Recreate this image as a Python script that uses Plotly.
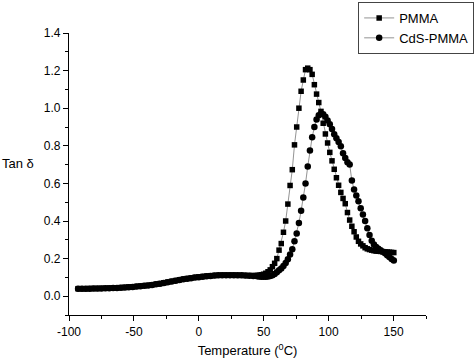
import plotly.graph_objects as go

temps = [-93, -90, -87, -84, -81, -78, -75, -72, -69, -66, -63, -60, -57, -54, -51,
         -48, -45, -42, -39, -36, -33, -30, -27, -24, -21, -18, -15, -12, -9, -6, -3,
         0, 3, 6, 9, 12, 15, 18, 21, 24, 27, 30, 33, 36, 39, 42, 45,
         46.5, 48.2, 49.9, 51.6, 53.3, 55.0, 56.7, 58.4, 60.1, 61.8, 63.5, 65.2,
         66.9, 68.6, 70.3, 72.0, 73.7, 75.4, 77.1, 78.8, 80.5, 82.2, 83.9, 85.6,
         87.3, 89.0, 90.7, 92.4, 94.1, 95.8, 97.5, 99.2, 100.9, 102.6, 104.3, 106.0,
         107.7, 109.4, 111.1, 112.8, 114.5, 116.2, 117.9, 119.6, 121.3, 123.0, 124.7,
         126.4, 128.1, 129.8, 131.5, 133.2, 134.9, 136.6, 138.3, 140.0, 141.7, 143.4,
         145.1, 146.8, 148.5, 150.2]

pmma = [0.040, 0.040, 0.040, 0.041, 0.041, 0.041, 0.042, 0.042, 0.043, 0.044, 0.045,
        0.046, 0.047, 0.049, 0.050, 0.052, 0.054, 0.056, 0.058, 0.061, 0.064, 0.067,
        0.071, 0.075, 0.079, 0.083, 0.087, 0.091, 0.094, 0.097, 0.100, 0.103, 0.105,
        0.107, 0.109, 0.110, 0.111, 0.112, 0.112, 0.112, 0.112, 0.111, 0.111, 0.110,
        0.110, 0.110, 0.111,
        0.112, 0.114, 0.117, 0.122, 0.130, 0.140, 0.157, 0.175, 0.200, 0.245, 0.280,
        0.340, 0.400, 0.490, 0.589, 0.673, 0.805, 0.900, 1.000, 1.090, 1.150, 1.205,
        1.213, 1.205, 1.180, 1.125, 1.075, 1.030, 0.983, 0.920, 0.863, 0.815, 0.765,
        0.720, 0.675, 0.630, 0.590, 0.552, 0.520, 0.492, 0.445, 0.405, 0.372, 0.343,
        0.315, 0.292, 0.278, 0.268, 0.258, 0.252, 0.248, 0.245, 0.242, 0.240, 0.239,
        0.238, 0.237, 0.236, 0.235, 0.234, 0.233, 0.232, 0.231]

cds_pmma = [0.040, 0.040, 0.040, 0.040, 0.041, 0.041, 0.041, 0.042, 0.042, 0.043, 0.044,
            0.045, 0.046, 0.048, 0.049, 0.051, 0.053, 0.055, 0.057, 0.060, 0.063, 0.066,
            0.070, 0.074, 0.078, 0.082, 0.086, 0.090, 0.093, 0.096, 0.099, 0.101, 0.104,
            0.106, 0.108, 0.110, 0.111, 0.112, 0.112, 0.112, 0.112, 0.111, 0.111, 0.110,
            0.109, 0.108, 0.106,
            0.105, 0.104, 0.104, 0.104, 0.105, 0.107, 0.112, 0.118, 0.128, 0.138, 0.148,
            0.160, 0.176, 0.197, 0.222, 0.250, 0.292, 0.334, 0.390, 0.455, 0.525, 0.600,
            0.690, 0.775, 0.845, 0.900, 0.940, 0.962, 0.970, 0.968, 0.955, 0.935, 0.915,
            0.890, 0.862, 0.840, 0.820, 0.798, 0.760, 0.735, 0.712, 0.700, 0.615, 0.568,
            0.535, 0.505, 0.468, 0.435, 0.400, 0.362, 0.325, 0.295, 0.275, 0.262, 0.252,
            0.244, 0.236, 0.228, 0.218, 0.208, 0.198, 0.190]

x_tick_vals = [-100, -50, 0, 50, 100, 150]
x_tick_text = ["-100", "-50", "0", "50", "100", "150"]
y_tick_vals = [0.0, 0.2, 0.4, 0.6, 0.8, 1.0, 1.2, 1.4]
y_tick_text = ["0.0", "0.2", "0.4", "0.6", "0.8", "1.0", "1.2", "1.4"]

font = "Liberation Sans, Arial, sans-serif"

fig = go.Figure()
fig.add_trace(go.Scatter(
    x=temps, y=pmma, name="PMMA", mode="lines+markers",
    line=dict(color="#777777", width=0.8),
    marker=dict(symbol="square", size=5.5, color="black"),
))
fig.add_trace(go.Scatter(
    x=temps, y=cds_pmma, name="CdS-PMMA", mode="lines+markers",
    line=dict(color="#777777", width=0.8),
    marker=dict(symbol="circle", size=6.5, color="black"),
))

fig.update_layout(
    width=474, height=361,
    margin=dict(l=69, r=48, t=33, b=46, autoexpand=False),
    paper_bgcolor="white", plot_bgcolor="white",
    font=dict(family=font, size=12, color="black"),
    hovermode=False,
    showlegend=True,
    legend=dict(x=0.81, y=1.11, xanchor="left", yanchor="top",
                bordercolor="#444444", borderwidth=1, bgcolor="white",
                font=dict(size=13), tracegroupgap=0, itemwidth=30),
    xaxis=dict(range=[-100, 175], tickmode="array", tickvals=x_tick_vals,
               ticktext=x_tick_text, showgrid=False, zeroline=False,
               showline=True, linecolor="black", linewidth=1.2,
               ticks="outside", ticklen=5, tickcolor="black",
               minor=dict(tick0=-100, dtick=25, ticks="outside", ticklen=3, tickcolor="black"),
               title=dict(text="Temperature (<sup>0</sup>C)", font=dict(size=13), standoff=8),
               tickfont=dict(size=12)),
    yaxis=dict(range=[-0.1, 1.4], tickmode="array", tickvals=y_tick_vals,
               ticktext=y_tick_text, showgrid=False, zeroline=False,
               showline=True, linecolor="black", linewidth=1.2,
               ticks="outside", ticklen=5, tickcolor="black",
               minor=dict(tick0=0, dtick=0.1, ticks="outside", ticklen=3, tickcolor="black"),
               tickfont=dict(size=12)),
    annotations=[dict(text="Tan δ", xref="paper", yref="paper", x=-0.193, y=0.539,
                      xanchor="left", yanchor="middle", showarrow=False,
                      font=dict(size=13))],
)

fig.write_html("out.html", config={"displayModeBar": False},
               post_script="document.body.style.margin='0';")
